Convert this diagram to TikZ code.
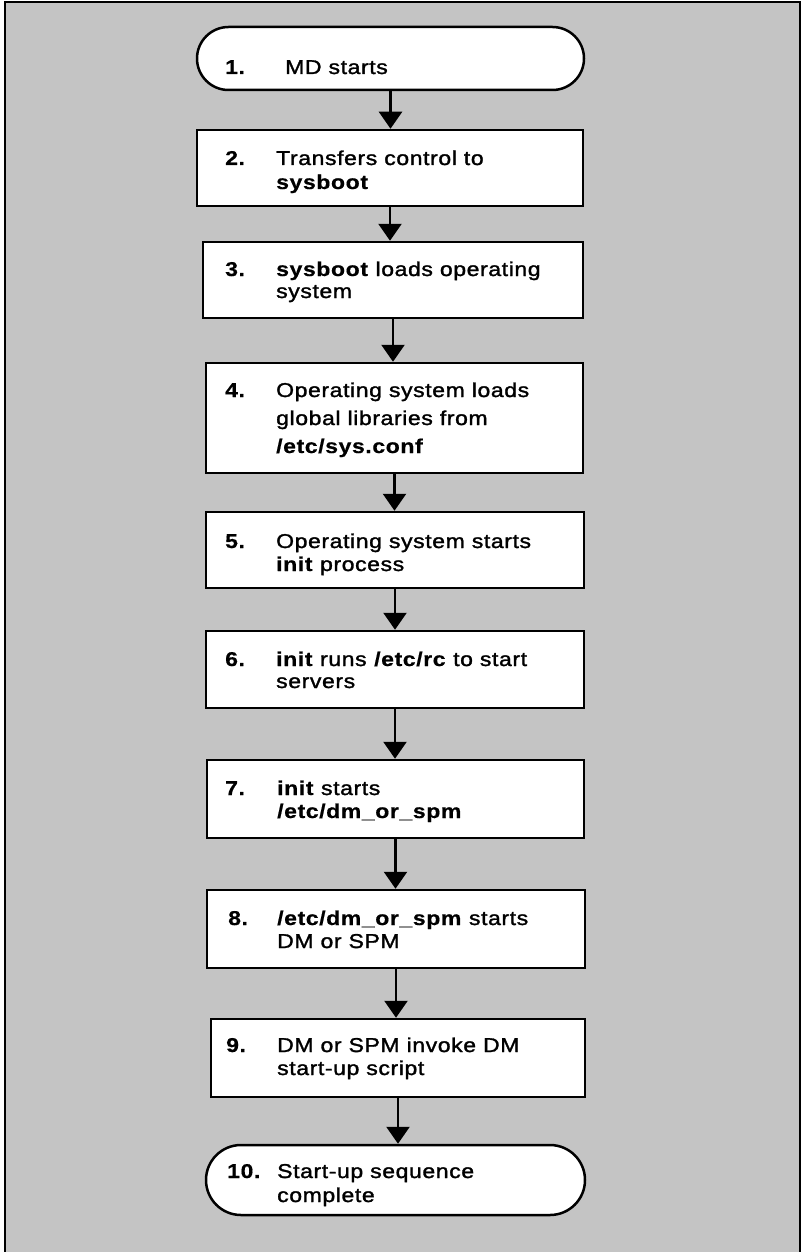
\documentclass[tikz,border=0pt]{standalone}
\usepackage{fontspec}
\setmainfont{Liberation Sans}[FakeStretch=1.15,LetterSpace=3,UprightFeatures={FakeBold=1.5},BoldFeatures={FakeBold=0.5}]
\usetikzlibrary{arrows.meta,shapes.misc}
\definecolor{bgdots}{gray}{0.77}
\begin{document}
\begin{tikzpicture}[x=1pt,y=-1pt,
  stepbox/.style={draw=black, line width=2.5pt, fill=white, rectangle, inner sep=0pt},
  termbox/.style={draw=black, line width=2.5pt, fill=white, rounded rectangle, inner sep=0pt},
  num/.style={anchor=base west, inner sep=0pt, font=\fontsize{20}{24}\selectfont\bfseries},
  txt/.style={anchor=base west, inner sep=0pt, font=\fontsize{20}{24}\selectfont},
  flow/.style={line width=2.5pt, -{Triangle[width=23pt,length=17pt]}}]
\useasboundingbox (0,0) rectangle (803,1252);
% background panel
\fill[bgdots] (5,2) rectangle (800,1252);
\draw[line width=2pt] (5,1252) -- (5,2) -- (800,2) -- (800,1252);

% shapes
\node[termbox, minimum width=387pt, minimum height=63pt] (n1) at (390.5,58.5) {};
\node[stepbox, minimum width=386pt, minimum height=76pt] (n2) at (390,168) {};
\node[stepbox, minimum width=380pt, minimum height=76pt] (n3) at (393,280) {};
\node[stepbox, minimum width=377pt, minimum height=110pt] (n4) at (394.5,418) {};
\node[stepbox, minimum width=378pt, minimum height=76pt] (n5) at (395,550) {};
\node[stepbox, minimum width=378pt, minimum height=77pt] (n6) at (395,669.5) {};
\node[stepbox, minimum width=377pt, minimum height=78pt] (n7) at (395.5,799) {};
\node[stepbox, minimum width=378pt, minimum height=78pt] (n8) at (396,929) {};
\node[stepbox, minimum width=374pt, minimum height=78pt] (n9) at (398,1058) {};
\node[termbox, minimum width=379pt, minimum height=70pt] (n10) at (395.5,1180) {};

% connectors
\draw[flow] (n1.south) -- (n1.south |- n2.north);
\draw[flow] (n2.south) -- (n2.south |- n3.north);
\draw[flow] (n3.south) -- (n3.south |- n4.north);
\draw[flow] (n4.south) -- (n4.south |- n5.north);
\draw[flow] (n5.south) -- (n5.south |- n6.north);
\draw[flow] (n6.south) -- (n6.south |- n7.north);
\draw[flow] (n7.south) -- (n7.south |- n8.north);
\draw[flow] (n8.south) -- (n8.south |- n9.north);
\draw[flow] (n9.south) -- (n9.south |- n10.north);

% texts
\node[num] (t1n) at (225,74) {1.};
\node[txt] (t1a) at (285,74) {MD starts};

\node[num] (t2n) at (225,165) {2.};
\node[txt] (t2a) at (276,165) {Transfers control to};
\node[txt] (t2b) at (276,189) {\bfseries sysboot};

\node[num] (t3n) at (225,276) {3.};
\node[txt] (t3a) at (276,276) {\textbf{sysboot} loads operating};
\node[txt] (t3b) at (276,298) {system};

\node[num] (t4n) at (225,397) {4.};
\node[txt] (t4a) at (276,397) {Operating system loads};
\node[txt] (t4b) at (276,425) {global libraries from};
\node[txt] (t4c) at (276,453) {\bfseries /etc/sys.conf};

\node[num] (t5n) at (225,548) {5.};
\node[txt] (t5a) at (276,548) {Operating system starts};
\node[txt] (t5b) at (276,571) {\textbf{init} process};

\node[num] (t6n) at (225,666) {6.};
\node[txt] (t6a) at (276,666) {\textbf{init} runs \textbf{/etc/rc} to start};
\node[txt] (t6b) at (276,688) {servers};

\node[num] (t7n) at (225,795) {7.};
\node[txt] (t7a) at (277,795) {\textbf{init} starts};
\node[txt] (t7b) at (277,818) {\bfseries /etc/dm\_or\_spm};

\node[num] (t8n) at (228,925) {8.};
\node[txt] (t8a) at (277,925) {\textbf{/etc/dm\_or\_spm} starts};
\node[txt] (t8b) at (277,948) {DM or SPM};

\node[num] (t9n) at (226,1052) {9.};
\node[txt] (t9a) at (277,1052) {DM or SPM invoke DM};
\node[txt] (t9b) at (277,1075) {start-up script};

\node[num] (t10n) at (227,1178) {10.};
\node[txt] (t10a) at (277,1178) {Start-up sequence};
\node[txt] (t10b) at (277,1202) {complete};
\end{tikzpicture}
\end{document}
